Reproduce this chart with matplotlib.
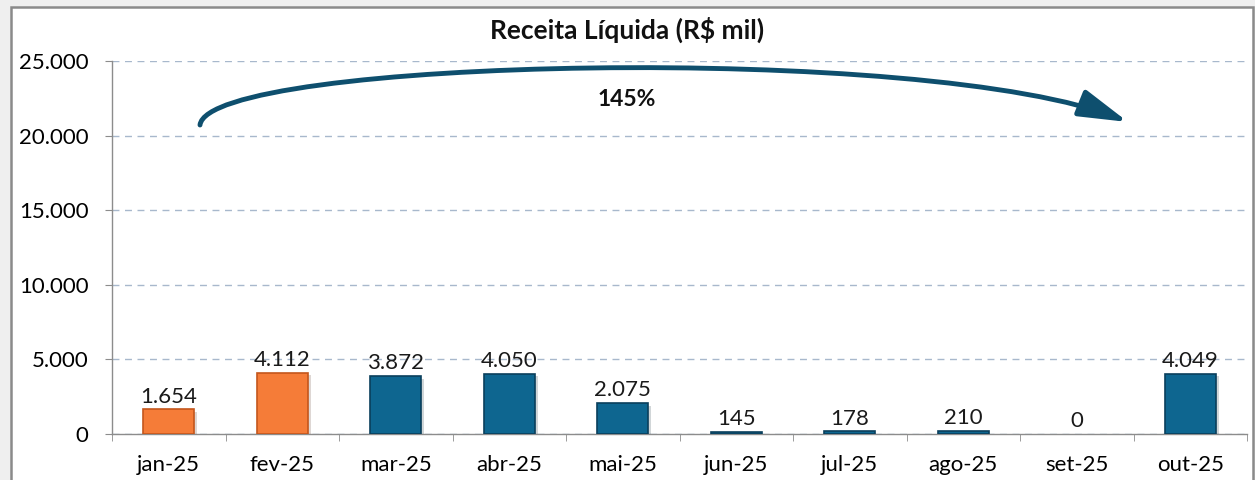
import matplotlib.pyplot as plt
import matplotlib.patheffects as pe
from matplotlib.patches import FancyArrowPatch, Rectangle
from matplotlib.path import Path
from matplotlib.ticker import FuncFormatter

meses = ["jan-25", "fev-25", "mar-25", "abr-25", "mai-25",
         "jun-25", "jul-25", "ago-25", "set-25", "out-25"]
receita = [1654, 4112, 3872, 4050, 2075, 145, 178, 210, 0, 4049]
rotulos = ["1.654", "4.112", "3.872", "4.050", "2.075",
           "145", "178", "210", "0", "4.049"]
variacao = "145%"

laranja = "#F57C38"
azul = "#0E6690"
cores = [laranja, laranja] + [azul] * 8
bordas = ["#C4561C", "#C4561C"] + ["#0A3F5C"] * 8

plt.rcParams["font.family"] = ["Lato", "DejaVu Sans"]

W, H = 1255, 480
fig = plt.figure(figsize=(W / 100, H / 100), dpi=100)
fig.patch.set_facecolor("#EFEFEF")


def fx(px):
    return px / W


def fy(py):
    return 1 - py / H


# moldura externa do gráfico
fig.patches.append(Rectangle((fx(11), -0.05), fx(1253 - 11), fy(7) + 0.05,
                             transform=fig.transFigure, facecolor="white",
                             edgecolor="#8A8A8A", linewidth=1.8, zorder=-1))

ax = fig.add_axes([fx(112), 1 - 434 / H, fx(1247 - 112), (434 - 61) / H])
ax.set_zorder(1)
ax.set_facecolor("none")

x = list(range(len(meses)))
espessuras = [0 if v == 0 else 1.2 for v in receita]
ax.bar(x, receita, width=0.45, color=cores, edgecolor=bordas, linewidth=espessuras,
       zorder=3,
       path_effects=[pe.SimplePatchShadow(offset=(2, -2), alpha=0.18), pe.Normal()])

for xi, v, txt in zip(x, receita, rotulos):
    ax.annotate(txt, (xi, v), xytext=(0, 2), textcoords="offset points",
                ha="center", va="bottom", fontsize=16, color="#1a1a1a", zorder=4)

ax.set_xlim(-0.5, len(meses) - 0.5)
ax.set_ylim(0, 25000)
ax.set_yticks(range(0, 25001, 5000))
ax.yaxis.set_major_formatter(FuncFormatter(lambda v, p: f"{int(v):,}".replace(",", ".")))
ax.set_xticks(x)
ax.set_xticklabels(meses)
ax.set_xticks([i - 0.5 for i in range(len(meses) + 1)], minor=True)
ax.tick_params(axis="x", which="major", length=0, labelsize=16, pad=15)
ax.tick_params(axis="x", which="minor", length=5, color="#8C8C8C")
ax.tick_params(axis="y", length=5, color="#8C8C8C", labelsize=16, pad=12)

ax.grid(axis="y", linestyle=(0, (5, 4)), color="#A8B8CC", linewidth=1.0, zorder=0)
for s in ["top", "right"]:
    ax.spines[s].set_visible(False)
for s in ["left", "bottom"]:
    ax.spines[s].set_color("#8C8C8C")
    ax.spines[s].set_linewidth(1.0)

fig.text(0.5, fy(30), "Receita Líquida (R$ mil)", ha="center", va="center",
         fontsize=19, fontweight="bold", color="#111111", zorder=2)

# seta curva de variação jan -> out
curva = Path([(fx(200), fy(125)), (fx(208), fy(58)), (fx(930), fy(42)), (fx(1128), fy(122))],
             [Path.MOVETO, Path.CURVE4, Path.CURVE4, Path.CURVE4])
seta = FancyArrowPatch(path=curva, transform=fig.transFigure,
                       arrowstyle="-|>,head_length=1.5,head_width=0.42",
                       mutation_scale=20, color="#0E4F6E", linewidth=3.5,
                       capstyle="round", zorder=5)
fig.patches.append(seta)
fig.text(fx(627), fy(100), variacao, ha="center", va="center",
         fontsize=16.5, fontweight="bold", color="#111111", zorder=5)

fig.savefig("out.png", dpi=100, facecolor=fig.get_facecolor())
